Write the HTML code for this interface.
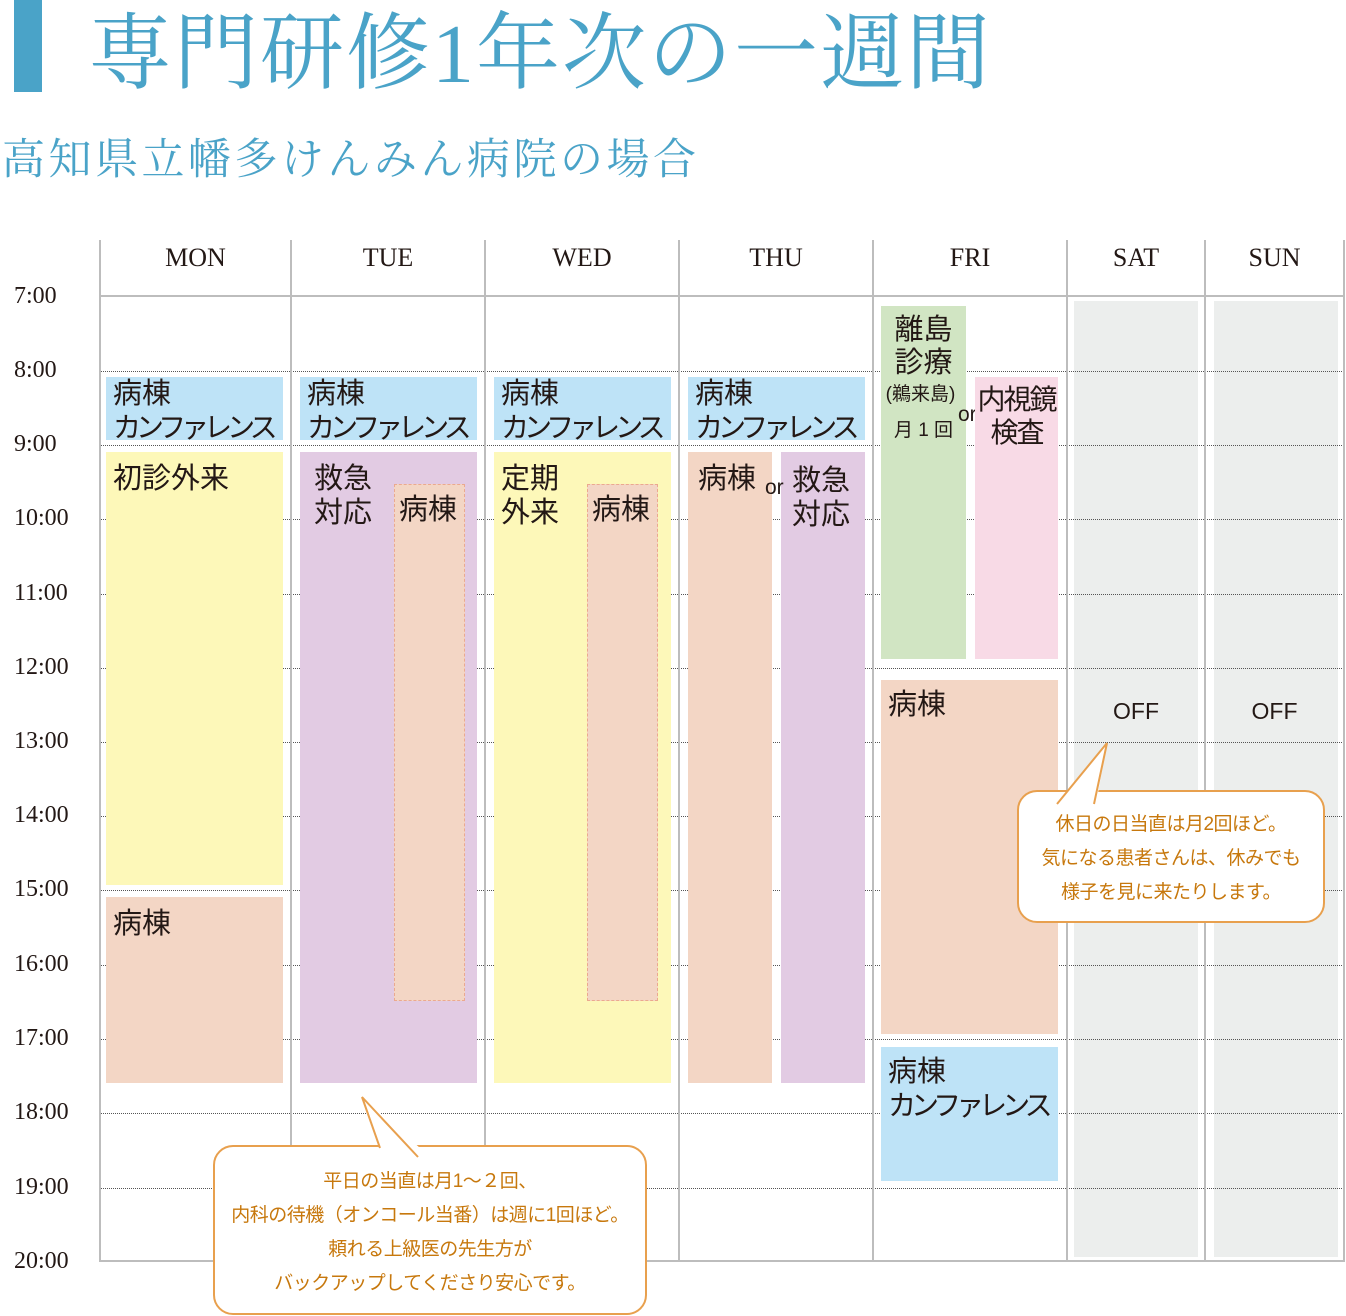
<!DOCTYPE html>
<html><head><meta charset="utf-8"><style>
body{margin:0;width:1346px;height:1316px;background:#fff;position:relative;overflow:hidden;font-family:"Liberation Sans","Noto Sans CJK JP",sans-serif;color:#231815}
div{position:absolute;box-sizing:border-box}
.t{font-family:"Liberation Serif","Noto Serif CJK JP",serif}
.hl{left:14px;font-size:24px;font-family:"Liberation Serif",serif}
.dl{left:100px;width:1244px;border-top:1.5px dotted #555;height:0}
.vl{top:240px;height:1022px;border-left:2px solid #bdbdbd;width:0}
.day{top:243px;font-size:26px;font-family:"Liberation Serif",serif;text-align:center}
.b{font-size:29px;line-height:34px;padding:0 0 0 7px;white-space:nowrap}
.k{letter-spacing:-5px;font-size:28px}
.blue{background:#bee3f7}.yel{background:#fdf8b9}.pch{background:#f3d6c5}.pur{background:#e2cbe3}.grn{background:#d1e5c3}.pnk{background:#f8dae6}.gry{background:#eceeed}
.dash{border:1.5px dashed #eba98f;background:#f3d6c5}
.c{color:#c7780d;font-size:19px;text-align:center;line-height:34px;background:#fff;border:2px solid #e8a04e;border-radius:20px;white-space:nowrap;letter-spacing:-0.5px}
</style></head><body>
<div style="left:14px;top:0;width:28px;height:92px;background:#4aa3c8"></div>
<div class="t" style="left:88px;top:-14px;font-size:84px;color:#4aa3c8;white-space:nowrap;letter-spacing:2px">専門研修1年次の一週間</div>
<div class="t" style="left:2px;top:126px;font-size:43px;color:#4aa3c8;white-space:nowrap;letter-spacing:3.5px">高知県立幡多けんみん病院の場合</div>

<div class="gry" style="left:1074px;top:301px;width:124px;height:956px"></div>
<div class="gry" style="left:1214px;top:301px;width:124px;height:956px"></div>

<div class="dl" style="top:371px"></div><div class="dl" style="top:445px"></div><div class="dl" style="top:519px"></div><div class="dl" style="top:594px"></div><div class="dl" style="top:668px"></div><div class="dl" style="top:742px"></div><div class="dl" style="top:816px"></div><div class="dl" style="top:890px"></div><div class="dl" style="top:965px"></div><div class="dl" style="top:1039px"></div><div class="dl" style="top:1113px"></div><div class="dl" style="top:1188px"></div>
<div style="left:100px;top:295px;width:1244px;border-top:2px solid #bdbdbd;height:0"></div>
<div style="left:100px;top:1260px;width:1244px;border-top:2px solid #bdbdbd;height:0"></div>
<div class="vl" style="left:99px"></div><div class="vl" style="left:290px"></div><div class="vl" style="left:484px"></div><div class="vl" style="left:678px"></div><div class="vl" style="left:872px"></div><div class="vl" style="left:1066px"></div><div class="vl" style="left:1204px"></div><div class="vl" style="left:1343px"></div>

<div class="day" style="left:100px;width:191px">MON</div><div class="day" style="left:291px;width:194px">TUE</div><div class="day" style="left:485px;width:194px">WED</div><div class="day" style="left:679px;width:194px">THU</div><div class="day" style="left:873px;width:194px">FRI</div><div class="day" style="left:1067px;width:138px">SAT</div><div class="day" style="left:1205px;width:139px">SUN</div>

<div class="hl" style="top:283px">7:00</div><div class="hl" style="top:357px">8:00</div><div class="hl" style="top:431px">9:00</div><div class="hl" style="top:505px">10:00</div><div class="hl" style="top:580px">11:00</div><div class="hl" style="top:654px">12:00</div><div class="hl" style="top:728px">13:00</div><div class="hl" style="top:802px">14:00</div><div class="hl" style="top:876px">15:00</div><div class="hl" style="top:951px">16:00</div><div class="hl" style="top:1025px">17:00</div><div class="hl" style="top:1099px">18:00</div><div class="hl" style="top:1174px">19:00</div><div class="hl" style="top:1248px">20:00</div>

<div class="b blue" style="left:106px;top:377px;width:177px;height:63px">病棟<br><span class="k">カンファレンス</span></div>
<div class="b blue" style="left:300px;top:377px;width:177px;height:63px">病棟<br><span class="k">カンファレンス</span></div>
<div class="b blue" style="left:494px;top:377px;width:177px;height:63px">病棟<br><span class="k">カンファレンス</span></div>
<div class="b blue" style="left:688px;top:377px;width:177px;height:63px">病棟<br><span class="k">カンファレンス</span></div>

<div class="b yel" style="left:106px;top:452px;width:177px;height:433px;padding-top:10px">初診外来</div>
<div class="b pch" style="left:106px;top:897px;width:177px;height:186px;padding-top:10px">病棟</div>

<div class="b pur" style="left:300px;top:452px;width:177px;height:631px;padding:10px 0 0 14px">救急<br>対応</div>
<div class="b dash" style="left:394px;top:484px;width:71px;height:517px;padding:8px 0 0 4px">病棟</div>

<div class="b yel" style="left:494px;top:452px;width:177px;height:631px;padding-top:10px">定期<br>外来</div>
<div class="b dash" style="left:587px;top:484px;width:71px;height:517px;padding:8px 0 0 4px">病棟</div>

<div class="b pch" style="left:688px;top:452px;width:84px;height:631px;padding:10px 0 0 10px">病棟</div>
<div class="b pur" style="left:781px;top:452px;width:84px;height:631px;padding:12px 0 0 11px">救急<br>対応</div>
<div style="left:765px;top:476px;font-size:21px">or</div>

<div class="grn" style="left:881px;top:306px;width:85px;height:353px;text-align:center;font-size:29px;line-height:33px;padding-top:8px">離島<br>診療<div style="position:static;font-size:19px;line-height:30px;margin-left:-6px">(鵜来島)</div><div style="position:static;font-size:19px;line-height:42px">月 1 回</div></div>
<div style="left:958px;top:403px;font-size:21px">or</div>
<div class="pnk" style="left:975px;top:377px;width:83px;height:282px;text-align:center;font-size:28px;line-height:33px;padding-top:6px;white-space:nowrap;letter-spacing:-2px">内視鏡<br>検査</div>

<div class="b pch" style="left:881px;top:680px;width:177px;height:354px;padding-top:8px">病棟</div>
<div class="b blue" style="left:881px;top:1047px;width:177px;height:134px;padding-top:8px">病棟<br><span class="k">カンファレンス</span></div>

<div style="left:1067px;top:698px;width:138px;text-align:center;font-size:23px">OFF</div>
<div style="left:1205px;top:698px;width:139px;text-align:center;font-size:23px">OFF</div>

<div class="c" style="left:1017px;top:790px;width:308px;height:133px;padding-top:16px">休日の日当直は月2回ほど。<br>気になる患者さんは、休みでも<br>様子を見に来たりします。</div>
<div class="c" style="left:213px;top:1145px;width:434px;height:170px;padding-top:18px">平日の当直は月1～２回、<br>内科の待機（オンコール当番）は週に1回ほど。<br>頼れる上級医の先生方が<br>バックアップしてくださり安心です。</div>
<svg style="position:absolute;left:0;top:0" width="1346" height="1316">
<polygon points="1107,743 1057,804 1096,804" fill="#fff"/>
<polyline points="1057,804 1107,743 1094,804" fill="none" stroke="#e8a04e" stroke-width="2"/>
<polygon points="362,1097 380,1148 420,1148" fill="#fff"/>
<polyline points="380,1148 362,1097 418,1157" fill="none" stroke="#e8a04e" stroke-width="2"/>
</svg>
</body></html>
